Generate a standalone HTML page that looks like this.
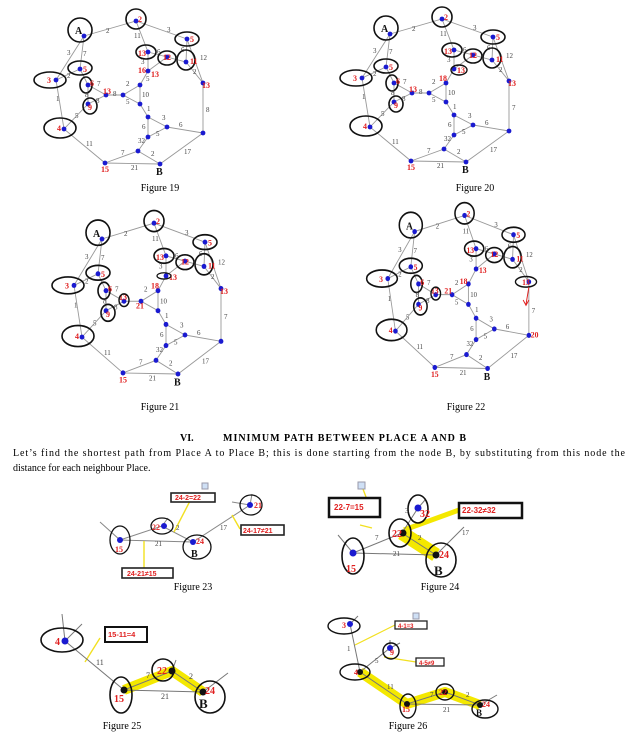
<!DOCTYPE html>
<html><head><meta charset="utf-8"><style>
html,body{margin:0;padding:0;background:#fff;}
svg{display:block;}
text{font-family:"Liberation Serif",serif;}
.w{font-size:7px;fill:#444;}
.r{font-size:8px;fill:#e02020;font-weight:bold;}
.k{font-size:10px;fill:#111;font-weight:bold;}
.cap{font-size:10px;fill:#000;}
.bx{fill:#fff;stroke:#222;stroke-width:1.6;}
.bt{font-family:"Liberation Sans",sans-serif;font-size:7px;fill:#e02020;font-weight:bold;}
</style></head><body>
<svg width="637" height="749" viewBox="0 0 637 749" xmlns="http://www.w3.org/2000/svg">
<defs>
<g id="g">
<g stroke="#999" stroke-width="0.9" fill="none">
<path d="M84 36L136 21L187 39M84 36L56 80L64 129L105 163L160 164L203 133L203 83L187 39M84 36L80 69M56 80L80 69L88 85L88 104L64 129M88 85L106 95L88 104M106 95L123 95L140 85L140 104L123 95M140 85L148 71L148 52L136 21M148 52L167 57L186 62L187 39M148 71L167 57M186 62L203 83M140 104L148 117L167 127L148 137L148 117M167 127L203 133M148 137L138 151L105 163M138 151L160 164"/>
</g>
<g fill="#1a1ad0">
<circle cx="84" cy="36" r="2.4"/><circle cx="136" cy="21" r="2.4"/><circle cx="187" cy="39" r="2.4"/><circle cx="148" cy="52" r="2.4"/><circle cx="167" cy="57" r="2.4"/><circle cx="186" cy="62" r="2.4"/><circle cx="148" cy="71" r="2.4"/><circle cx="203" cy="83" r="2.4"/><circle cx="56" cy="80" r="2.4"/><circle cx="80" cy="69" r="2.4"/><circle cx="88" cy="85" r="2.4"/><circle cx="106" cy="95" r="2.4"/><circle cx="123" cy="95" r="2.4"/><circle cx="140" cy="85" r="2.4"/><circle cx="140" cy="104" r="2.4"/><circle cx="88" cy="104" r="2.4"/><circle cx="64" cy="129" r="2.4"/><circle cx="148" cy="117" r="2.4"/><circle cx="167" cy="127" r="2.4"/><circle cx="148" cy="137" r="2.4"/><circle cx="203" cy="133" r="2.4"/><circle cx="138" cy="151" r="2.4"/><circle cx="105" cy="163" r="2.4"/><circle cx="160" cy="164" r="2.4"/>
</g>
<g fill="none" stroke="#111" stroke-width="1.6">
<circle cx="80" cy="30" r="12"/><circle cx="136" cy="19" r="10"/><ellipse cx="187" cy="39" rx="12" ry="7"/><ellipse cx="146" cy="52" rx="10" ry="7"/><ellipse cx="167" cy="58" rx="9" ry="7"/><ellipse cx="186" cy="60" rx="9" ry="10"/><ellipse cx="50" cy="80" rx="16" ry="8"/><ellipse cx="80" cy="68" rx="12" ry="7"/><ellipse cx="86" cy="85" rx="6" ry="8"/><ellipse cx="90" cy="106" rx="7" ry="8"/><ellipse cx="60" cy="128" rx="16" ry="10"/>
</g>
</g>
</defs>

<g id="f19">
<use href="#g"/>
<g>
<text class="w" x="106" y="33">2</text><text class="w" x="167" y="32">3</text><text class="w" x="67" y="55">3</text><text class="w" x="83" y="56">7</text><text class="w" x="67" y="78">2</text><text class="w" x="56" y="101">1</text><text class="w" x="97" y="86">7</text><text class="w" x="85" y="97">8</text><text class="w" x="113" y="96">8</text><text class="w" x="96" y="103">8</text><text class="w" x="75" y="118">5</text><text class="w" x="126" y="86">2</text><text class="w" x="126" y="104">5</text><text class="w" x="142" y="97">10</text><text class="w" x="146" y="81">5</text><text class="w" x="134" y="38">11</text><text class="w" x="157" y="54">6</text><text class="w" x="141" y="64">3</text><text class="w" x="175" y="61">1</text><text class="w" x="181" y="52">6</text><text class="w" x="200" y="60">12</text><text class="w" x="193" y="74">2</text><text class="w" x="206" y="112">8</text><text class="w" x="162" y="120">3</text><text class="w" x="179" y="127">6</text><text class="w" x="142" y="129">6</text><text class="w" x="156" y="136">5</text><text class="w" x="138" y="143">32</text><text class="w" x="121" y="155">7</text><text class="w" x="151" y="156">2</text><text class="w" x="184" y="154">17</text><text class="w" x="86" y="146">11</text><text class="w" x="131" y="170">21</text><text class="w" x="147" y="111">1</text>
<text class="r" x="138" y="22">2</text><text class="r" x="190" y="42">5</text><text class="r" x="138" y="56">13</text><text class="r" x="163" y="60">12</text><text class="r" x="190" y="64">11</text><text class="r" x="138" y="73">16</text><text class="r" x="151" y="77">13</text><text class="r" x="202" y="88">13</text><text class="r" x="47" y="83">3</text><text class="r" x="83" y="72">5</text><text class="r" x="90" y="86">6</text><text class="r" x="103" y="94">13</text><text class="r" x="88" y="110">9</text><text class="r" x="57" y="131">4</text><text class="r" x="101" y="172">15</text>
<text class="k" x="75" y="34">A</text><text class="k" x="156" y="175">B</text>
</g>
</g>

<g transform="translate(306,-2)">
<use href="#g"/>
<text class="w" x="106" y="33">2</text><text class="w" x="167" y="32">3</text><text class="w" x="67" y="55">3</text><text class="w" x="83" y="56">7</text><text class="w" x="67" y="78">2</text><text class="w" x="56" y="101">1</text><text class="w" x="97" y="86">7</text><text class="w" x="85" y="97">8</text><text class="w" x="113" y="96">8</text><text class="w" x="96" y="103">8</text><text class="w" x="75" y="118">5</text><text class="w" x="126" y="86">2</text><text class="w" x="126" y="104">5</text><text class="w" x="142" y="97">10</text><text class="w" x="134" y="38">11</text><text class="w" x="157" y="54">6</text><text class="w" x="141" y="64">3</text><text class="w" x="175" y="61">1</text><text class="w" x="181" y="52">6</text><text class="w" x="200" y="60">12</text><text class="w" x="193" y="74">2</text><text class="w" x="206" y="112">7</text><text class="w" x="162" y="120">3</text><text class="w" x="179" y="127">6</text><text class="w" x="142" y="129">6</text><text class="w" x="156" y="136">5</text><text class="w" x="138" y="143">32</text><text class="w" x="121" y="155">7</text><text class="w" x="151" y="156">2</text><text class="w" x="184" y="154">17</text><text class="w" x="86" y="146">11</text><text class="w" x="131" y="170">21</text><text class="w" x="147" y="111">1</text>
<text class="r" x="138" y="22">2</text><text class="r" x="190" y="42">5</text><text class="r" x="138" y="56">13</text><text class="r" x="163" y="60">12</text><text class="r" x="190" y="64">11</text><text class="r" x="133" y="83">18</text><text class="r" x="151" y="75">13</text><text class="r" x="202" y="88">13</text><text class="r" x="47" y="83">3</text><text class="r" x="83" y="72">5</text><text class="r" x="90" y="86">6</text><text class="r" x="103" y="94">13</text><text class="r" x="88" y="110">9</text><text class="r" x="57" y="131">4</text><text class="r" x="101" y="172">15</text>
<text class="k" x="75" y="34">A</text><text class="k" x="156" y="175">B</text>
<ellipse cx="153" cy="72" rx="8" ry="5" fill="none" stroke="#111" stroke-width="1.4"/>
</g>

<g transform="translate(18,201) scale(1,1.055)">
<use href="#g"/>
<text class="w" x="106" y="33">2</text><text class="w" x="167" y="32">3</text><text class="w" x="67" y="55">3</text><text class="w" x="83" y="56">7</text><text class="w" x="67" y="78">2</text><text class="w" x="56" y="101">1</text><text class="w" x="97" y="86">7</text><text class="w" x="85" y="97">8</text><text class="w" x="96" y="103">8</text><text class="w" x="75" y="118">5</text><text class="w" x="126" y="86">2</text><text class="w" x="142" y="97">10</text><text class="w" x="134" y="38">11</text><text class="w" x="157" y="54">6</text><text class="w" x="141" y="64">3</text><text class="w" x="175" y="61">1</text><text class="w" x="181" y="52">6</text><text class="w" x="200" y="60">12</text><text class="w" x="193" y="74">2</text><text class="w" x="206" y="112">7</text><text class="w" x="162" y="120">3</text><text class="w" x="179" y="127">6</text><text class="w" x="142" y="129">6</text><text class="w" x="156" y="136">5</text><text class="w" x="138" y="143">32</text><text class="w" x="121" y="155">7</text><text class="w" x="151" y="156">2</text><text class="w" x="184" y="154">17</text><text class="w" x="86" y="146">11</text><text class="w" x="131" y="170">21</text><text class="w" x="147" y="111">1</text>
<text class="r" x="138" y="22">2</text><text class="r" x="190" y="42">5</text><text class="r" x="138" y="56">13</text><text class="r" x="163" y="60">12</text><text class="r" x="190" y="64">11</text><text class="r" x="133" y="83">18</text><text class="r" x="151" y="75">13</text><text class="r" x="202" y="88">13</text><text class="r" x="47" y="83">3</text><text class="r" x="83" y="72">5</text><text class="r" x="90" y="86">6</text><text class="r" x="101" y="94">13</text><text class="r" x="118" y="102">21</text><text class="r" x="88" y="110">9</text><text class="r" x="57" y="131">4</text><text class="r" x="101" y="172">15</text>
<text class="k" x="75" y="34">A</text><text class="k" x="156" y="175">B</text>
<ellipse cx="106" cy="94" rx="5" ry="6" fill="none" stroke="#111" stroke-width="1.4"/><ellipse cx="146" cy="71" rx="7" ry="3" fill="none" stroke="#111" stroke-width="1.2"/>
</g>

<g transform="translate(334,193) scale(0.96,1.07)">
<use href="#g"/>
<text class="w" x="106" y="33">2</text><text class="w" x="167" y="32">3</text><text class="w" x="67" y="55">3</text><text class="w" x="83" y="56">7</text><text class="w" x="67" y="78">2</text><text class="w" x="56" y="101">1</text><text class="w" x="97" y="86">7</text><text class="w" x="85" y="97">8</text><text class="w" x="96" y="103">8</text><text class="w" x="75" y="118">5</text><text class="w" x="126" y="86">2</text><text class="w" x="126" y="104">5</text><text class="w" x="142" y="97">10</text><text class="w" x="134" y="38">11</text><text class="w" x="157" y="54">6</text><text class="w" x="141" y="64">3</text><text class="w" x="175" y="61">1</text><text class="w" x="181" y="52">6</text><text class="w" x="200" y="60">12</text><text class="w" x="193" y="74">2</text><text class="w" x="206" y="112">7</text><text class="w" x="162" y="120">3</text><text class="w" x="179" y="127">6</text><text class="w" x="142" y="129">6</text><text class="w" x="156" y="136">5</text><text class="w" x="138" y="143">32</text><text class="w" x="121" y="155">7</text><text class="w" x="151" y="156">2</text><text class="w" x="184" y="154">17</text><text class="w" x="86" y="146">11</text><text class="w" x="131" y="170">21</text><text class="w" x="147" y="111">1</text>
<text class="r" x="138" y="22">2</text><text class="r" x="190" y="42">5</text><text class="r" x="138" y="56">13</text><text class="r" x="163" y="60">12</text><text class="r" x="190" y="64">11</text><text class="r" x="131" y="85">18</text><text class="r" x="151" y="75">13</text><text class="r" x="196" y="86">13</text><text class="r" x="205" y="135">20</text><text class="r" x="47" y="83">3</text><text class="r" x="83" y="72">5</text><text class="r" x="90" y="86">6</text><text class="r" x="101" y="94">13</text><text class="r" x="115" y="94">21</text><text class="r" x="88" y="110">9</text><text class="r" x="57" y="131">4</text><text class="r" x="101" y="172">15</text>
<text class="k" x="75" y="34">A</text><text class="k" x="156" y="175">B</text>
<ellipse cx="106" cy="94" rx="5" ry="6" fill="none" stroke="#111" stroke-width="1.4"/><ellipse cx="200" cy="83" rx="11" ry="5" fill="none" stroke="#111" stroke-width="1.4"/>
<path d="M203 88L200 104M197 100L200 105L203 100" stroke="#e02020" fill="none" stroke-width="1"/>
</g>

<text class="cap" x="160" y="191" text-anchor="middle">Figure 19</text>
<text class="cap" x="475" y="191" text-anchor="middle">Figure 20</text>
<text class="cap" x="160" y="410" text-anchor="middle">Figure 21</text>
<text class="cap" x="466" y="410" text-anchor="middle">Figure 22</text>

<text x="180" y="441" style="font-size:10px;font-weight:bold">VI.</text>
<text x="223" y="441" style="font-size:10px;font-weight:bold" textLength="243">MINIMUM PATH BETWEEN PLACE A AND B</text>
<text x="13" y="456" style="font-size:10px" textLength="612">Let’s find the shortest path from Place A to Place B; this is done starting from the node B, by substituting from this node the</text>
<text x="13" y="471" style="font-size:10px">distance for each neighbour Place.</text>

<!-- Figure 23 -->
<g stroke="#888" stroke-width="1" fill="none">
<path d="M100 522L120 540L162 526L193 542L250 505L232 502M120 540L193 542M162 526L168 518M250 505L252 494"/>
</g>
<g stroke="#f2e020" stroke-width="1.4"><path d="M190 501L174 532M232 515L240 529M144 541L144 568"/></g>
<g fill="none" stroke="#111" stroke-width="1.3"><ellipse cx="120" cy="540" rx="10" ry="14"/><ellipse cx="162" cy="526" rx="11" ry="8"/><ellipse cx="197" cy="547" rx="14" ry="12"/><ellipse cx="251" cy="505" rx="11" ry="10"/></g>
<g fill="#1a1ad0"><circle cx="120" cy="540" r="3"/><circle cx="164" cy="526" r="3"/><circle cx="193" cy="542" r="3"/><circle cx="250" cy="505" r="3"/></g>
<text class="r" x="115" y="552">15</text><text class="r" x="152" y="530">22</text><text class="r" x="196" y="544">24</text><text class="r" x="254" y="508">21</text>
<text class="k" x="191" y="557">B</text><text class="w" x="176" y="530">2</text><text class="w" x="220" y="530">17</text><text class="w" x="155" y="546">21</text>
<rect class="bx" x="171" y="493" width="44" height="9"/><text class="bt" x="175" y="500">24-2=22</text>
<rect class="bx" x="241" y="525" width="43" height="10"/><text class="bt" x="243" y="533">24-17≠21</text>
<rect class="bx" x="122" y="568" width="51" height="10"/><text class="bt" x="127" y="576">24-21≠15</text>
<rect x="202" y="483" width="6" height="6" fill="#cfe0f5" stroke="#99a"/>
<text class="cap" x="193" y="590" text-anchor="middle">Figure 23</text>

<!-- Figure 24 -->
<path d="M402 533L436 555" stroke="#f4e800" stroke-width="14" stroke-linecap="butt"/>
<path d="M404 530L459 510" stroke="#f4e800" stroke-width="5"/>
<path d="M363 489L372 513M360 525L372 528" stroke="#f2e020" stroke-width="1.4" fill="none"/>
<g stroke="#777" stroke-width="1" fill="none"><path d="M338 535L353 553L402 533L436 555L464 527M353 553L436 555M402 533L418 508L425 500"/></g>
<g fill="none" stroke="#111" stroke-width="1.6"><ellipse cx="353" cy="556" rx="11" ry="18"/><ellipse cx="400" cy="533" rx="11" ry="14"/><ellipse cx="441" cy="560" rx="15" ry="17"/><ellipse cx="418" cy="509" rx="10" ry="14"/></g>
<circle cx="353" cy="553" r="3.5" fill="#1a1ad0"/><circle cx="418" cy="508" r="3.5" fill="#1a1ad0"/><circle cx="403" cy="533" r="3.5" fill="#111"/><circle cx="436" cy="555" r="3.5" fill="#111"/>
<text class="r" x="346" y="572" style="font-size:10px">15</text><text class="r" x="392" y="537" style="font-size:10px">22</text><text class="r" x="439" y="558" style="font-size:10px">24</text><text class="r" x="420" y="517" style="font-size:10px">32</text>
<text class="k" x="434" y="575" style="font-size:13px">B</text>
<text class="w" x="393" y="556">21</text><text class="w" x="375" y="540">7</text><text class="w" x="418" y="540">2</text><text class="w" x="462" y="535">17</text><text class="w" x="405" y="513">3</text>
<rect x="329" y="498" width="51" height="19" fill="#fff" stroke="#111" stroke-width="2.5"/><text class="bt" x="334" y="510" style="font-size:8px">22-7=15</text>
<rect x="459" y="503" width="63" height="15" fill="#fff" stroke="#111" stroke-width="2.5"/><text class="bt" x="462" y="513" style="font-size:8px">22-32≠32</text>
<rect x="358" y="482" width="7" height="7" fill="#cfe0f5" stroke="#99a"/>
<text class="cap" x="440" y="590" text-anchor="middle">Figure 24</text>

<!-- Figure 25 -->
<path d="M124 690L172 671L203 692" stroke="#f4e800" stroke-width="10" fill="none" stroke-linejoin="round"/>
<path d="M85 662L100 638" stroke="#f2e020" stroke-width="1.4"/>
<g stroke="#777" stroke-width="1" fill="none"><path d="M62 614L65 641L82 624M65 641L124 690L172 671L203 692L228 673M124 690L203 692M172 671L176 660"/></g>
<g fill="none" stroke="#111" stroke-width="1.6"><ellipse cx="62" cy="640" rx="21" ry="12"/><ellipse cx="121" cy="695" rx="11" ry="18"/><ellipse cx="163" cy="670" rx="11" ry="11"/><ellipse cx="210" cy="697" rx="15" ry="16"/></g>
<circle cx="65" cy="641" r="3.5" fill="#1a1ad0"/><circle cx="124" cy="690" r="3.5" fill="#111"/><circle cx="172" cy="671" r="3.5" fill="#111"/><circle cx="203" cy="692" r="3.5" fill="#111"/>
<text class="r" x="55" y="645" style="font-size:10px">4</text><text class="r" x="114" y="702" style="font-size:10px">15</text><text class="r" x="157" y="674" style="font-size:10px">22</text><text class="r" x="205" y="694" style="font-size:10px">24</text>
<text class="k" x="199" y="708" style="font-size:13px">B</text>
<text class="w" x="96" y="665" style="font-size:8px">11</text><text class="w" x="146" y="678" style="font-size:8px">7</text><text class="w" x="189" y="679" style="font-size:8px">2</text><text class="w" x="161" y="699" style="font-size:8px">21</text>
<rect x="105" y="627" width="42" height="15" fill="#fff" stroke="#111" stroke-width="2"/><text class="bt" x="108" y="637" style="font-size:7.5px">15-11=4</text>
<text class="cap" x="122" y="729" text-anchor="middle">Figure 25</text>

<!-- Figure 26 -->
<path d="M360 672L407 704L445 692L480 705" stroke="#f4e800" stroke-width="10" fill="none" stroke-linejoin="round"/>
<path d="M355 645L395 625M384 657L416 662" stroke="#f2e020" stroke-width="1.2" fill="none"/>
<g stroke="#777" stroke-width="1" fill="none"><path d="M350 624L360 672L390 648L400 643M350 624L358 616M360 672L407 704L445 692L480 705L497 695M407 704L480 705M390 648L390 640"/></g>
<g fill="none" stroke="#111" stroke-width="1.4"><ellipse cx="344" cy="626" rx="16" ry="8"/><ellipse cx="391" cy="651" rx="8" ry="8"/><ellipse cx="355" cy="672" rx="15" ry="8"/><ellipse cx="408" cy="706" rx="8" ry="12"/><ellipse cx="445" cy="692" rx="9" ry="8"/><ellipse cx="485" cy="709" rx="13" ry="9"/></g>
<circle cx="350" cy="624" r="3" fill="#1a1ad0"/><circle cx="390" cy="648" r="3" fill="#1a1ad0"/><circle cx="360" cy="672" r="3" fill="#111"/><circle cx="407" cy="704" r="3" fill="#111"/><circle cx="445" cy="692" r="3" fill="#111"/><circle cx="480" cy="705" r="3" fill="#111"/>
<text class="r" x="342" y="628">3</text><text class="r" x="390" y="655">9</text><text class="r" x="354" y="675">4</text><text class="r" x="402" y="712">15</text><text class="r" x="439" y="695">22</text><text class="r" x="482" y="707">24</text>
<text class="k" x="476" y="716" style="font-size:9px">B</text>
<text class="w" x="347" y="651">1</text><text class="w" x="375" y="663">5</text><text class="w" x="387" y="689">11</text><text class="w" x="430" y="697">7</text><text class="w" x="466" y="697">2</text><text class="w" x="443" y="712">21</text>
<rect x="395" y="621" width="32" height="8" fill="#fff" stroke="#222" stroke-width="1.3"/><text class="bt" x="398" y="628" style="font-size:6px">4-1=3</text>
<rect x="416" y="658" width="28" height="8" fill="#fff" stroke="#222" stroke-width="1.3"/><text class="bt" x="419" y="665" style="font-size:6px">4-5≠9</text>
<rect x="413" y="613" width="6" height="6" fill="#cfe0f5" stroke="#99a"/>
<text class="cap" x="408" y="729" text-anchor="middle">Figure 26</text>
</svg>
</body></html>
